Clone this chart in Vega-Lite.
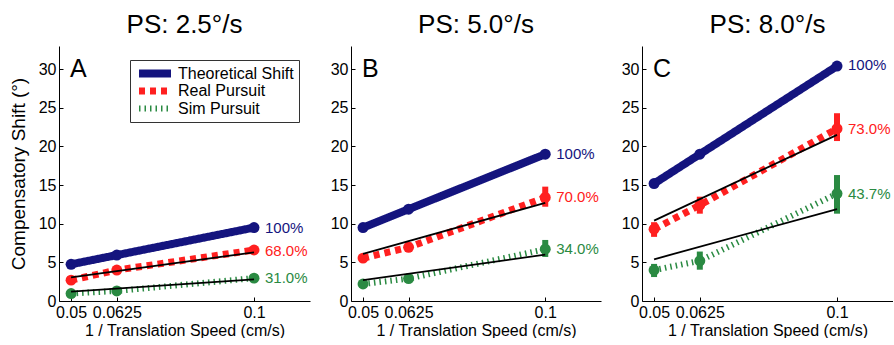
{
  "$schema": "https://vega.github.io/schema/vega-lite/v6.json",
  "background": "white",
  "padding": {"left": 9, "top": 12, "right": 0, "bottom": 0},
  "datasets": {
    "pts": [
      {"panel": "A", "series": "Theoretical Shift", "x": 0.05, "y": 4.75},
      {"panel": "A", "series": "Theoretical Shift", "x": 0.0625, "y": 5.94},
      {"panel": "A", "series": "Theoretical Shift", "x": 0.1, "y": 9.5},
      {"panel": "A", "series": "Real Pursuit", "x": 0.05, "y": 2.7, "lo": 2.4, "hi": 3.0},
      {"panel": "A", "series": "Real Pursuit", "x": 0.0625, "y": 4.0, "lo": 3.7, "hi": 4.3},
      {"panel": "A", "series": "Real Pursuit", "x": 0.1, "y": 6.6, "lo": 6.2, "hi": 7.0},
      {"panel": "A", "series": "Sim Pursuit", "x": 0.05, "y": 0.97, "lo": 0.75, "hi": 1.2},
      {"panel": "A", "series": "Sim Pursuit", "x": 0.0625, "y": 1.3, "lo": 1.1, "hi": 1.5},
      {"panel": "A", "series": "Sim Pursuit", "x": 0.1, "y": 2.96, "lo": 2.7, "hi": 3.2},
      {"panel": "B", "series": "Theoretical Shift", "x": 0.05, "y": 9.5},
      {"panel": "B", "series": "Theoretical Shift", "x": 0.0625, "y": 11.88},
      {"panel": "B", "series": "Theoretical Shift", "x": 0.1, "y": 19.0},
      {"panel": "B", "series": "Real Pursuit", "x": 0.05, "y": 5.55, "lo": 5.2, "hi": 5.9},
      {"panel": "B", "series": "Real Pursuit", "x": 0.0625, "y": 6.95, "lo": 6.5, "hi": 7.6},
      {"panel": "B", "series": "Real Pursuit", "x": 0.1, "y": 13.4, "lo": 12.2, "hi": 14.8},
      {"panel": "B", "series": "Sim Pursuit", "x": 0.05, "y": 2.2, "lo": 1.9, "hi": 2.5},
      {"panel": "B", "series": "Sim Pursuit", "x": 0.0625, "y": 2.9, "lo": 2.6, "hi": 3.2},
      {"panel": "B", "series": "Sim Pursuit", "x": 0.1, "y": 6.7, "lo": 5.7, "hi": 7.9},
      {"panel": "C", "series": "Theoretical Shift", "x": 0.05, "y": 15.2},
      {"panel": "C", "series": "Theoretical Shift", "x": 0.0625, "y": 19.0},
      {"panel": "C", "series": "Theoretical Shift", "x": 0.1, "y": 30.4},
      {"panel": "C", "series": "Real Pursuit", "x": 0.05, "y": 9.3, "lo": 8.3, "hi": 10.2},
      {"panel": "C", "series": "Real Pursuit", "x": 0.0625, "y": 12.4, "lo": 11.3, "hi": 13.5},
      {"panel": "C", "series": "Real Pursuit", "x": 0.1, "y": 22.3, "lo": 20.7, "hi": 24.3},
      {"panel": "C", "series": "Sim Pursuit", "x": 0.05, "y": 4.0, "lo": 3.1, "hi": 4.8},
      {"panel": "C", "series": "Sim Pursuit", "x": 0.0625, "y": 5.2, "lo": 4.05, "hi": 6.4},
      {"panel": "C", "series": "Sim Pursuit", "x": 0.1, "y": 13.9, "lo": 11.3, "hi": 16.3}
    ],
    "fits": [
      {"panel": "A", "series": "Real Pursuit", "x": 0.05, "y": 3.05},
      {"panel": "A", "series": "Real Pursuit", "x": 0.1, "y": 6.3},
      {"panel": "A", "series": "Sim Pursuit", "x": 0.05, "y": 1.2},
      {"panel": "A", "series": "Sim Pursuit", "x": 0.1, "y": 2.8},
      {"panel": "B", "series": "Real Pursuit", "x": 0.05, "y": 6.1},
      {"panel": "B", "series": "Real Pursuit", "x": 0.1, "y": 12.7},
      {"panel": "B", "series": "Sim Pursuit", "x": 0.05, "y": 2.7},
      {"panel": "B", "series": "Sim Pursuit", "x": 0.1, "y": 6.0},
      {"panel": "C", "series": "Real Pursuit", "x": 0.05, "y": 10.4},
      {"panel": "C", "series": "Real Pursuit", "x": 0.1, "y": 21.5},
      {"panel": "C", "series": "Sim Pursuit", "x": 0.05, "y": 5.4},
      {"panel": "C", "series": "Sim Pursuit", "x": 0.1, "y": 11.9}
    ],
    "labels": [
      {"panel": "A", "series": "Theoretical Shift", "x": 0.1, "y": 9.5, "label": "100%"},
      {"panel": "A", "series": "Real Pursuit", "x": 0.1, "y": 6.5, "label": "68.0%"},
      {"panel": "A", "series": "Sim Pursuit", "x": 0.1, "y": 3.0, "label": "31.0%"},
      {"panel": "B", "series": "Theoretical Shift", "x": 0.1, "y": 19.0, "label": "100%"},
      {"panel": "B", "series": "Real Pursuit", "x": 0.1, "y": 13.4, "label": "70.0%"},
      {"panel": "B", "series": "Sim Pursuit", "x": 0.1, "y": 6.7, "label": "34.0%"},
      {"panel": "C", "series": "Theoretical Shift", "x": 0.1, "y": 30.5, "label": "100%"},
      {"panel": "C", "series": "Real Pursuit", "x": 0.1, "y": 22.3, "label": "73.0%"},
      {"panel": "C", "series": "Sim Pursuit", "x": 0.1, "y": 13.9, "label": "43.7%"}
    ],
    "letters": [
      {"panel": "A", "x": 0.0497, "y": 30, "label": "A"},
      {"panel": "B", "x": 0.0497, "y": 30, "label": "B"},
      {"panel": "C", "x": 0.0497, "y": 30, "label": "C"}
    ]
  },
  "hconcat": [
    {
      "title": "PS: 2.5°/s",
      "width": 251, "height": 255,
      "encoding": {
        "x": {"field": "x", "type": "quantitative", "scale": {"domain": [0.0467, 0.1153], "nice": false, "zero": false},
              "axis": {"values": [0.05, 0.0625, 0.1], "labelExpr": "'' + datum.value", "title": "1 / Translation Speed (cm/s)"}},
        "y": {"field": "y", "type": "quantitative", "scale": {"domain": [0, 33], "nice": false},
              "axis": {"values": [0, 5, 10, 15, 20, 25, 30], "title": "Compensatory Shift (°)"}}
      },
      "layer": [
        {"data": {"name": "pts"}, "transform": [{"filter": "datum.panel === 'A'"}],
         "mark": {"type": "line"},
         "encoding": {
           "color": {"field": "series", "type": "nominal", "scale": {"domain": ["Theoretical Shift", "Real Pursuit", "Sim Pursuit"], "range": ["#14147e", "#ff2020", "#2a8a42"]},
                     "legend": {"orient": "none", "legendX": 71, "legendY": 14, "title": null}},
           "strokeDash": {"field": "series", "type": "nominal", "scale": {"domain": ["Theoretical Shift", "Real Pursuit", "Sim Pursuit"], "range": [[1, 0], [6, 5], [1.5, 4]]},
                     "legend": {"orient": "none", "legendX": 71, "legendY": 14, "title": null}},
           "strokeWidth": {"field": "series", "type": "nominal", "scale": {"domain": ["Theoretical Shift", "Real Pursuit", "Sim Pursuit"], "range": [8, 6, 7]}, "legend": null}
         }},
        {"data": {"name": "pts"}, "transform": [{"filter": "datum.panel === 'A' && datum.lo != null"}],
         "mark": {"type": "rule", "strokeWidth": 6},
         "encoding": {"y": {"field": "lo", "type": "quantitative"}, "y2": {"field": "hi"},
           "color": {"field": "series", "type": "nominal", "legend": null}}},
        {"data": {"name": "pts"}, "transform": [{"filter": "datum.panel === 'A'"}],
         "mark": {"type": "point", "filled": true, "size": 120, "opacity": 1},
         "encoding": {"color": {"field": "series", "type": "nominal", "legend": null}}},
        {"data": {"name": "fits"}, "transform": [{"filter": "datum.panel === 'A'"}],
         "mark": {"type": "line", "color": "black", "strokeWidth": 1.8},
         "encoding": {"detail": {"field": "series"}}},
        {"data": {"name": "labels"}, "transform": [{"filter": "datum.panel === 'A'"}],
         "mark": {"type": "text", "align": "left", "baseline": "middle", "dx": 11, "fontSize": 15, "font": "Liberation Sans"},
         "encoding": {"text": {"field": "label"}, "color": {"field": "series", "type": "nominal", "legend": null}}},
        {"data": {"name": "letters"}, "transform": [{"filter": "datum.panel === 'A'"}],
         "mark": {"type": "text", "align": "left", "baseline": "middle", "fontSize": 25, "font": "Liberation Sans", "color": "black"},
         "encoding": {"text": {"field": "label"}}}
      ]
    },
    {
      "title": "PS: 5.0°/s",
      "width": 250, "height": 255,
      "encoding": {
        "x": {"field": "x", "type": "quantitative", "scale": {"domain": [0.0467, 0.1153], "nice": false, "zero": false},
              "axis": {"values": [0.05, 0.0625, 0.1], "labelExpr": "'' + datum.value", "title": "1 / Translation Speed (cm/s)"}},
        "y": {"field": "y", "type": "quantitative", "scale": {"domain": [0, 33], "nice": false},
              "axis": {"values": [0, 5, 10, 15, 20, 25, 30], "title": null}}
      },
      "layer": [
        {"data": {"name": "pts"}, "transform": [{"filter": "datum.panel === 'B'"}],
         "mark": {"type": "line"},
         "encoding": {
           "color": {"field": "series", "type": "nominal", "scale": {"domain": ["Theoretical Shift", "Real Pursuit", "Sim Pursuit"], "range": ["#14147e", "#ff2020", "#2a8a42"]}, "legend": null},
           "strokeDash": {"field": "series", "type": "nominal", "scale": {"domain": ["Theoretical Shift", "Real Pursuit", "Sim Pursuit"], "range": [[1, 0], [6, 5], [1.5, 4]]}, "legend": null},
           "strokeWidth": {"field": "series", "type": "nominal", "scale": {"domain": ["Theoretical Shift", "Real Pursuit", "Sim Pursuit"], "range": [8, 6, 7]}, "legend": null}
         }},
        {"data": {"name": "pts"}, "transform": [{"filter": "datum.panel === 'B' && datum.lo != null"}],
         "mark": {"type": "rule", "strokeWidth": 6},
         "encoding": {"y": {"field": "lo", "type": "quantitative"}, "y2": {"field": "hi"},
           "color": {"field": "series", "type": "nominal", "legend": null}}},
        {"data": {"name": "pts"}, "transform": [{"filter": "datum.panel === 'B'"}],
         "mark": {"type": "point", "filled": true, "size": 120, "opacity": 1},
         "encoding": {"color": {"field": "series", "type": "nominal", "legend": null}}},
        {"data": {"name": "fits"}, "transform": [{"filter": "datum.panel === 'B'"}],
         "mark": {"type": "line", "color": "black", "strokeWidth": 1.8},
         "encoding": {"detail": {"field": "series"}}},
        {"data": {"name": "labels"}, "transform": [{"filter": "datum.panel === 'B'"}],
         "mark": {"type": "text", "align": "left", "baseline": "middle", "dx": 11, "fontSize": 15, "font": "Liberation Sans"},
         "encoding": {"text": {"field": "label"}, "color": {"field": "series", "type": "nominal", "legend": null}}},
        {"data": {"name": "letters"}, "transform": [{"filter": "datum.panel === 'B'"}],
         "mark": {"type": "text", "align": "left", "baseline": "middle", "fontSize": 25, "font": "Liberation Sans", "color": "black"},
         "encoding": {"text": {"field": "label"}}}
      ]
    },
    {
      "title": "PS: 8.0°/s",
      "width": 251, "height": 255,
      "encoding": {
        "x": {"field": "x", "type": "quantitative", "scale": {"domain": [0.0467, 0.1153], "nice": false, "zero": false},
              "axis": {"values": [0.05, 0.0625, 0.1], "labelExpr": "'' + datum.value", "title": "1 / Translation Speed (cm/s)"}},
        "y": {"field": "y", "type": "quantitative", "scale": {"domain": [0, 33], "nice": false},
              "axis": {"values": [0, 5, 10, 15, 20, 25, 30], "title": null}}
      },
      "layer": [
        {"data": {"name": "pts"}, "transform": [{"filter": "datum.panel === 'C'"}],
         "mark": {"type": "line"},
         "encoding": {
           "color": {"field": "series", "type": "nominal", "scale": {"domain": ["Theoretical Shift", "Real Pursuit", "Sim Pursuit"], "range": ["#14147e", "#ff2020", "#2a8a42"]}, "legend": null},
           "strokeDash": {"field": "series", "type": "nominal", "scale": {"domain": ["Theoretical Shift", "Real Pursuit", "Sim Pursuit"], "range": [[1, 0], [6, 5], [1.5, 4]]}, "legend": null},
           "strokeWidth": {"field": "series", "type": "nominal", "scale": {"domain": ["Theoretical Shift", "Real Pursuit", "Sim Pursuit"], "range": [8, 6, 7]}, "legend": null}
         }},
        {"data": {"name": "pts"}, "transform": [{"filter": "datum.panel === 'C' && datum.lo != null"}],
         "mark": {"type": "rule", "strokeWidth": 6},
         "encoding": {"y": {"field": "lo", "type": "quantitative"}, "y2": {"field": "hi"},
           "color": {"field": "series", "type": "nominal", "legend": null}}},
        {"data": {"name": "pts"}, "transform": [{"filter": "datum.panel === 'C'"}],
         "mark": {"type": "point", "filled": true, "size": 120, "opacity": 1},
         "encoding": {"color": {"field": "series", "type": "nominal", "legend": null}}},
        {"data": {"name": "fits"}, "transform": [{"filter": "datum.panel === 'C'"}],
         "mark": {"type": "line", "color": "black", "strokeWidth": 1.8},
         "encoding": {"detail": {"field": "series"}}},
        {"data": {"name": "labels"}, "transform": [{"filter": "datum.panel === 'C'"}],
         "mark": {"type": "text", "align": "left", "baseline": "middle", "dx": 11, "fontSize": 15, "font": "Liberation Sans"},
         "encoding": {"text": {"field": "label"}, "color": {"field": "series", "type": "nominal", "legend": null}}},
        {"data": {"name": "letters"}, "transform": [{"filter": "datum.panel === 'C'"}],
         "mark": {"type": "text", "align": "left", "baseline": "middle", "fontSize": 25, "font": "Liberation Sans", "color": "black"},
         "encoding": {"text": {"field": "label"}}}
      ]
    }
  ],
  "spacing": 41,
  "bounds": "flush",
  "resolve": {"scale": {"color": "independent", "strokeDash": "independent", "strokeWidth": "independent"}},
  "config": {
    "view": {"stroke": null},
    "font": "Liberation Sans",
    "title": {"font": "Liberation Sans", "fontSize": 26, "fontWeight": "normal", "color": "#000", "offset": 8, "anchor": "middle"},
    "axis": {"labelFont": "Liberation Sans", "titleFont": "Liberation Sans", "labelFontSize": 16, "titleFontSize": 16,
             "titleFontWeight": "normal", "labelColor": "#000", "titleColor": "#000", "domainColor": "#000", "tickColor": "#000",
             "grid": false, "tickSize": -4, "labelPadding": 7},
    "axisY": {"titleFontSize": 19, "titlePadding": 10},
    "axisX": {"labelFontSize": 16, "titlePadding": 2, "labelFlush": false, "labelOverlap": false},
    "legend": {"labelFont": "Liberation Sans", "labelFontSize": 16, "labelColor": "#000", "fillColor": "white", "strokeColor": "#333",
               "padding": 5, "symbolType": "M-4,0H4", "symbolStrokeWidth": 7, "symbolSize": 64, "symbolOffset": 12,
               "clipHeight": 17, "rowPadding": 0.5, "labelOffset": 15}
  }
}
